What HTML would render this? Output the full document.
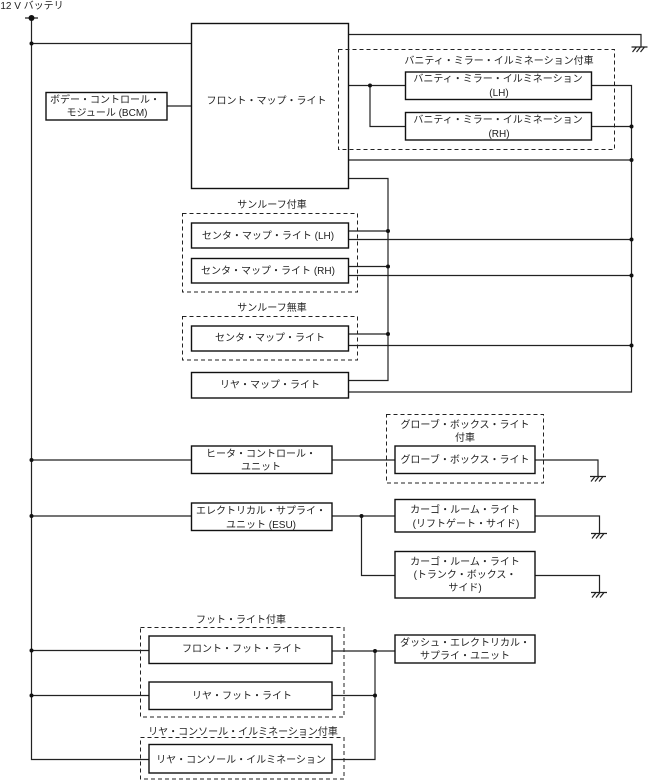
<!DOCTYPE html>
<html><head><meta charset="utf-8">
<style>
html,body{margin:0;padding:0;background:#fff}
svg{display:block}
text{font-family:"Liberation Sans","Noto Sans CJK JP",sans-serif;font-size:10px;fill:#222;text-anchor:middle}
.l{fill:none;stroke:#222;stroke-width:1.2}
.b{fill:#fff;stroke:#111;stroke-width:1.4}
.d{fill:none;stroke:#222;stroke-width:1;stroke-dasharray:4 3}
</style></head><body>
<svg width="649" height="781" viewBox="0 0 649 781" xmlns="http://www.w3.org/2000/svg">
<defs>
<g id="g"><path class="l" d="M-8 0H8M-3 0L-7 5M1 0L-3 5M5 0L1 5"/></g>
</defs>
<rect width="649" height="781" fill="#fff"/>
<text x="32" y="9" style="font-size:10px">12 V バッテリ</text>

<!-- wires -->
<path class="l" d="M31.5 17V759.5H149M25 18H38M31.5 43.5H191.5M167 106H191.5"/>
<path class="l" d="M348 34.5H641V47M348 85.5H405M370 85.5V126.5H405M591 85.5H631.5V392H348M591 126.5H631.5M348 160H631.5M348 178.5H388V380.5H348"/>
<path class="l" d="M348 231H388M348 239.5H631.5M348 266.5H388M348 275.5H631.5M348 334H388M348 345.5H631.5"/>
<path class="l" d="M31.5 460H191.5M332 460H395M535 460H598V476M31.5 516H191.5M332 516H395M535 516H599.5V533M361.5 516V575.5H395M535 575.5H599.5V592"/>
<path class="l" d="M31.5 650.5H149M31.5 695.5H149M332 651H395M332 695.5H375M375 651V759.5H332"/>

<!-- grounds -->
<use href="#g" x="639.5" y="47"/>
<use href="#g" x="598" y="476.5"/>
<use href="#g" x="599" y="533.5"/>
<use href="#g" x="599" y="592.5"/>

<!-- dots -->
<g fill="#111">
<circle cx="31.5" cy="18" r="3"/>
<circle cx="31.5" cy="43.5" r="2"/><circle cx="31.5" cy="460" r="2"/><circle cx="31.5" cy="516" r="2"/><circle cx="31.5" cy="650.5" r="2"/><circle cx="31.5" cy="695.5" r="2"/>
<circle cx="370" cy="85.5" r="2"/>
<circle cx="631.5" cy="126.5" r="2"/><circle cx="631.5" cy="160" r="2"/><circle cx="631.5" cy="239.5" r="2"/><circle cx="631.5" cy="275.5" r="2"/><circle cx="631.5" cy="345.5" r="2"/>
<circle cx="388" cy="231" r="2"/><circle cx="388" cy="266.5" r="2"/><circle cx="388" cy="334" r="2"/>
<circle cx="361.5" cy="516" r="2"/><circle cx="375" cy="651" r="2"/><circle cx="375" cy="695.5" r="2"/>
</g>

<!-- boxes -->
<rect class="b" x="191.5" y="23.5" width="157" height="165"/>
<rect class="b" x="46" y="92.5" width="121" height="27.5"/>
<rect class="b" x="405.5" y="72" width="186" height="27.5"/>
<rect class="b" x="405.5" y="112.5" width="186" height="27.5"/>
<rect class="b" x="191.5" y="223" width="157" height="25"/>
<rect class="b" x="191.5" y="258.5" width="157" height="24.5"/>
<rect class="b" x="191.5" y="326" width="157" height="25"/>
<rect class="b" x="191.5" y="372.5" width="157" height="25.5"/>
<rect class="b" x="191.5" y="446" width="140.5" height="27.5"/>
<rect class="b" x="395" y="446" width="140" height="27.5"/>
<rect class="b" x="191.5" y="503" width="140.5" height="27.5"/>
<rect class="b" x="395" y="499.5" width="140" height="32.5"/>
<rect class="b" x="395" y="551.5" width="140" height="46.5"/>
<rect class="b" x="149" y="636" width="183" height="27.5"/>
<rect class="b" x="149" y="682" width="183" height="27.5"/>
<rect class="b" x="149" y="744.5" width="183" height="28.5"/>
<rect class="b" x="395" y="635" width="140" height="28"/>

<!-- dashed groups -->
<rect class="d" x="338.5" y="49.5" width="276" height="100"/>
<rect class="d" x="182.5" y="213.5" width="175" height="78.5"/>
<rect class="d" x="182.5" y="316.5" width="175" height="43.5"/>
<rect class="d" x="386.5" y="414.5" width="157" height="68.5"/>
<rect class="d" x="140.5" y="627.5" width="203.5" height="89.5"/>
<rect class="d" x="140.5" y="737.5" width="203.5" height="41.5"/>

<!-- labels -->
<text x="105" y="103">ボデー・コントロール・</text>
<text x="107" y="116">モジュール (BCM)</text>
<text x="266.5" y="104">フロント・マップ・ライト</text>
<text x="499" y="64">バニティ・ミラー・イルミネーション付車</text>
<text x="498" y="82">バニティ・ミラー・イルミネーション</text>
<text x="499" y="96">(LH)</text>
<text x="498" y="123">バニティ・ミラー・イルミネーション</text>
<text x="499" y="137">(RH)</text>
<text x="272" y="208">サンルーフ付車</text>
<text x="268" y="239">センタ・マップ・ライト (LH)</text>
<text x="268" y="274">センタ・マップ・ライト (RH)</text>
<text x="272" y="311">サンルーフ無車</text>
<text x="270" y="341">センタ・マップ・ライト</text>
<text x="270" y="388">リヤ・マップ・ライト</text>
<text x="465" y="428">グローブ・ボックス・ライト</text>
<text x="465" y="441">付車</text>
<text x="465" y="463">グローブ・ボックス・ライト</text>
<text x="261" y="457">ヒータ・コントロール・</text>
<text x="261" y="470">ユニット</text>
<text x="261" y="514">エレクトリカル・サプライ・</text>
<text x="261" y="528">ユニット (ESU)</text>
<text x="465" y="513">カーゴ・ルーム・ライト</text>
<text x="466" y="527">(リフトゲート・サイド)</text>
<text x="465" y="565">カーゴ・ルーム・ライト</text>
<text x="465" y="578">(トランク・ボックス・</text>
<text x="465" y="591">サイド)</text>
<text x="241" y="623">フット・ライト付車</text>
<text x="242" y="652">フロント・フット・ライト</text>
<text x="242" y="699">リヤ・フット・ライト</text>
<text x="243" y="735">リヤ・コンソール・イルミネーション付車</text>
<text x="241" y="763">リヤ・コンソール・イルミネーション</text>
<text x="465" y="646">ダッシュ・エレクトリカル・</text>
<text x="465" y="659">サプライ・ユニット</text>
</svg>
</body></html>
